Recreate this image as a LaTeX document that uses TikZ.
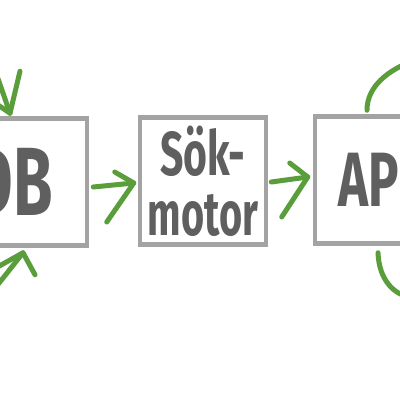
\documentclass[tikz,border=0pt]{standalone}
\usepackage{fontspec}
\setmainfont{Fira Sans}
\usepackage{graphicx}
\usetikzlibrary{calc}
\definecolor{boxgray}{HTML}{A3A3A3}
\definecolor{inkgray}{HTML}{5F5F5F}
\definecolor{pengreen}{HTML}{5A9E3C}
\newcommand{\narrowtext}[2]{\scalebox{#1}[1]{#2}}

\begin{document}
\begin{tikzpicture}[x=1pt, y=-1pt,
    box/.style={draw=boxgray, line width=4.5pt, minimum width=126pt, minimum height=127pt, inner sep=0pt, text=inkgray},
    pen/.style={draw=pengreen, line width=5pt, line cap=round, line join=round}]
  \fill[white] (0,0) rectangle (400,400);
  \useasboundingbox (0,0) rectangle (400,400);
  \clip (0,0) rectangle (400,400);

  % boxes
  \node[box, font=\fontsize{97}{97}\selectfont\bfseries] (db) at (24,182) {\raisebox{-6pt}{\narrowtext{0.66}{DB}}\hspace*{24pt}};
  \node[box, align=center, font=\fontsize{62}{60}\selectfont\bfseries] (sok) at (203,181) {\narrowtext{0.66}{Sök-}\\\narrowtext{0.64}{motor}};
  \node[box, font=\fontsize{77}{77}\selectfont\bfseries] (api) at (378,180) {\narrowtext{0.66}{API}\hspace*{4pt}};

  % DB -> Sökmotor
  \coordinate (tip1) at ($(sok.west)+(-4,2)$);
  \draw[pen] ($(db.east)+(4,5)$) -- (tip1);
  \draw[pen] ($(tip1)+(-19,-11)$) -- (tip1) -- ++(-27,39);

  % Sökmotor -> API
  \coordinate (tip2) at ($(api.west)+(-5,-3)$);
  \draw[pen] ($(sok.east)+(3,1)$) -- (tip2);
  \draw[pen] ($(tip2)+(-18,-14)$) -- (tip2) -- ++(-26,40);

  % into DB from above and below
  \coordinate (tip3) at ($(db.north)+(-14,-3)$);
  \coordinate (src3) at (-12,50);
  \draw[pen] (src3) -- (tip3);
  \draw[pen] ($(tip3)+(10,-42)$) -- (tip3) -- ++(-13,-9);

  \coordinate (tip4) at ($(db.south)+(-1,5)$);
  \coordinate (src4) at (-15,300);
  \draw[pen] (src4) .. controls (0,282) .. (tip4);
  \draw[pen] ($(tip4)+(-25,14)$) -- (tip4) -- ++(12,22);

  % API loop
  \coordinate (end5) at (410,62);
  \coordinate (end6) at (410,297);
  \draw[pen] ($(api.north)+(-11,-4)$) .. controls +(0,-25) and +(-20,8) .. (end5);
  \draw[pen] ($(api.south)+(0,7)$) .. controls +(1,28) and +(-15,-2) .. (end6);
\end{tikzpicture}
\end{document}
